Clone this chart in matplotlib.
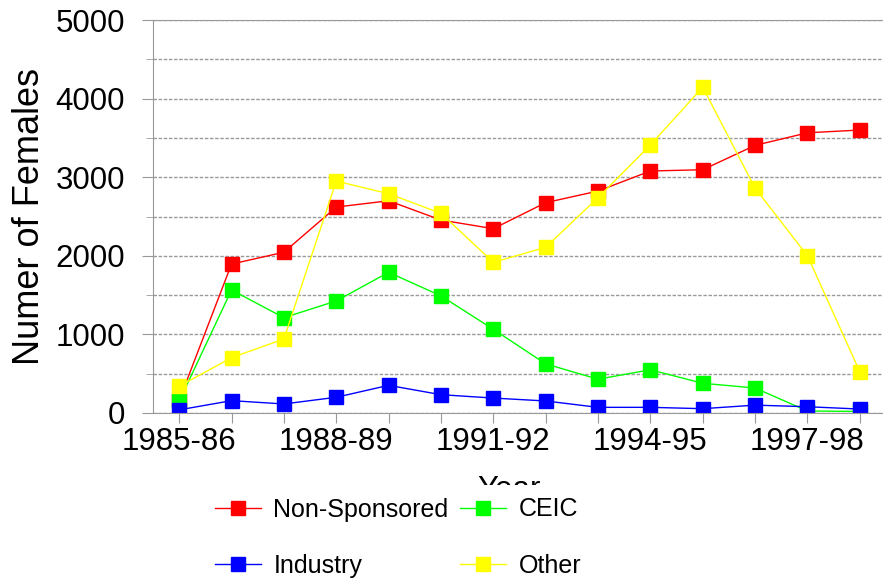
import numpy
from matplotlib import pyplot as plt

plt.rcParams['font.family'] = ['Liberation Sans', 'DejaVu Sans']

# school years on the x axis
years = ['1985-86', '1986-87', '1987-88', '1988-89', '1989-90', '1990-91', '1991-92',
         '1992-93', '1993-94', '1994-95', '1995-96', '1996-97', '1997-98', '1998-99']
tick_years = ['1985-86', '1988-89', '1991-92', '1994-95', '1997-98']

# number of females, per sponsor type
non_sponsored = [160, 1895, 2045, 2620, 2700, 2455, 2345, 2676, 2824, 3079, 3095, 3405, 3565, 3600]
ceic = [150, 1565, 1213, 1425, 1790, 1490, 1065, 625, 430, 550, 378, 318, 25, 20]
industry = [40, 157, 115, 200, 352, 233, 190, 153, 72, 72, 55, 100, 80, 50]
other = [340, 704, 941, 2950, 2790, 2540, 1917, 2108, 2740, 3410, 4145, 2860, 2000, 525]

series = [('Non-Sponsored', non_sponsored, '#ff0000'),
          ('CEIC', ceic, '#00ff00'),
          ('Industry', industry, '#0000ff'),
          ('Other', other, '#ffff00')]

fig = plt.figure(figsize=(8.83, 5.81), dpi=100)
ax = fig.add_axes([153/883, 1-413/581, 733/883, 393/581])

x = numpy.arange(len(years))
lines = {}
for name, vals, col in series:
    lines[name], = ax.plot(x, vals, color=col, lw=1.0, marker='s', ms=10.5, mec=col, label=name)

ax.set_xlim(-0.5, len(years) - 0.5)
ax.set_ylim(0, 5000)

# axis styling (grey frame, dashed grid every 500)
for s in ['left', 'bottom', 'top']:
    ax.spines[s].set_color('#999999')
ax.spines['right'].set_visible(False)
ax.set_yticks(numpy.arange(0, 5001, 1000))
ax.set_yticks(numpy.arange(500, 5000, 1000), minor=True)
ax.yaxis.grid(True, which='both', color='#999999', ls=(0, (2.5, 1.2)), lw=1.0)
ax.set_axisbelow(True)
ax.tick_params(axis='y', which='major', length=8, color='#999999', labelsize=22.5, pad=12)
ax.tick_params(axis='y', which='minor', length=5, color='#999999')

ax.set_xticks(x)
ax.set_xticklabels([y if y in tick_years else '' for y in years])
ax.tick_params(axis='x', length=7, color='#999999', labelsize=22.5, pad=3)

ax.set_ylabel('Numer of Females', fontsize=26, labelpad=6)
ax.set_xlabel('Year', fontsize=22.5)
ax.xaxis.set_label_coords((509-153)/733, -62/393, transform=ax.transAxes)
ax.xaxis.label.set_va('top')

# legend order: columns are filled first, so Non-Sponsored/CEIC end up on the first row
order = ['Non-Sponsored', 'Industry', 'CEIC', 'Other']
fig.legend([lines[n] for n in order], order, loc='upper left',
           bbox_to_anchor=(189/883, 1-472/581), ncol=2,
           fontsize=18, frameon=True, facecolor='white', edgecolor='none', framealpha=1,
           borderpad=0.52, handlelength=1.85, handletextpad=0.5, columnspacing=0.45,
           labelspacing=1.3, fancybox=False)

plt.savefig('out.png', dpi=100)
